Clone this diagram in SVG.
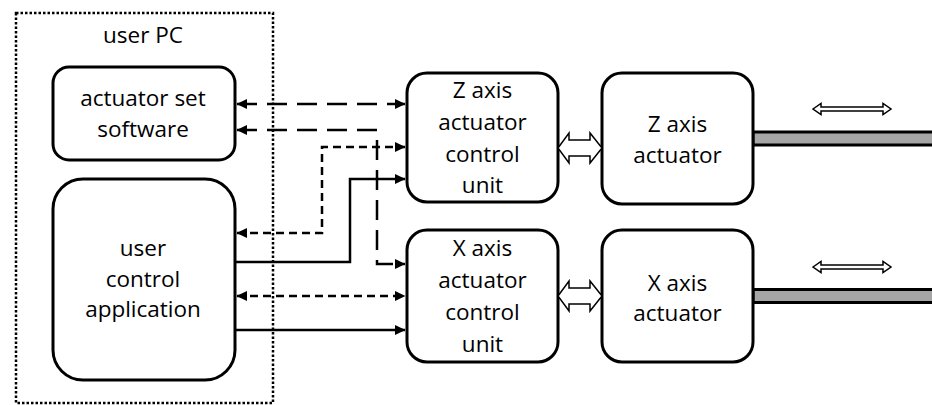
<svg xmlns="http://www.w3.org/2000/svg" width="932" height="405" viewBox="0 0 932 405">
<style>
.box{fill:#fff;stroke:#000;stroke-width:3}
.t{font-family:"Open Sans","Liberation Sans",sans-serif;font-size:22.5px;fill:#000;text-anchor:middle}
.c{fill:none;stroke:#000;stroke-width:2.5}
.ld{stroke-dasharray:20 10}
.sd{stroke-dasharray:8 5}
.hollow{fill:#fff;stroke:#000;stroke-width:1.5;stroke-linejoin:miter}
.rod{fill:#a6a6a6;stroke:#000;stroke-width:3}
</style>
<defs>
<marker id="ah" markerUnits="userSpaceOnUse" markerWidth="11" markerHeight="11" viewBox="0 0 11 11" refX="10" refY="5.5" orient="auto-start-reverse">
<path d="M0,0.5 L10.5,5.5 L0,10.5 z" fill="#000"/>
</marker>
</defs>
<rect width="932" height="405" fill="#fff"/>
<g id="userpc">
<rect x="16" y="13" width="257" height="390" fill="none" stroke="#000" stroke-width="2.5" stroke-dasharray="2.5 2"/>
<text class="t" x="143" y="43">user PC</text>
</g>
<g id="software">
<rect class="box" x="53" y="67" width="182" height="93" rx="16"/>
<text class="t" x="143" y="106">actuator set</text>
<text class="t" x="143" y="137">software</text>
</g>
<g id="app">
<rect class="box" x="53" y="179" width="182" height="201" rx="30"/>
<text class="t" x="143" y="256">user</text>
<text class="t" x="143" y="287">control</text>
<text class="t" x="143" y="317">application</text>
</g>
<g id="zcu">
<rect class="box" x="407" y="73" width="151" height="129" rx="20"/>
<text class="t" x="482.5" y="98">Z axis</text>
<text class="t" x="482.5" y="130">actuator</text>
<text class="t" x="482.5" y="162">control</text>
<text class="t" x="482.5" y="193">unit</text>
</g>
<g id="xcu">
<rect class="box" x="407" y="230" width="151" height="132" rx="20"/>
<text class="t" x="482.5" y="256">X axis</text>
<text class="t" x="482.5" y="288">actuator</text>
<text class="t" x="482.5" y="320">control</text>
<text class="t" x="482.5" y="352">unit</text>
</g>
<g id="zact">
<rect class="rod" x="753" y="132" width="190" height="13"/>
<rect class="box" x="602" y="73" width="151" height="131" rx="20"/>
<text class="t" x="677.5" y="132">Z axis</text>
<text class="t" x="677.5" y="163">actuator</text>
<path class="hollow" d="M813,109 L821,103.5 L821,107 L883,107 L883,103.5 L891,109 L883,114.5 L883,111 L821,111 L821,114.5 z"/>
</g>
<g id="xact">
<rect class="rod" x="753" y="289.5" width="190" height="13"/>
<rect class="box" x="602" y="230" width="151" height="132" rx="20"/>
<text class="t" x="677.5" y="291">X axis</text>
<text class="t" x="677.5" y="321">actuator</text>
<path class="hollow" d="M813,267 L821,261.5 L821,265 L883,265 L883,261.5 L891,267 L883,272.5 L883,269 L821,269 L821,272.5 z"/>
</g>
<g id="connectors">
<path class="hollow" d="M558,148 L569,133 L569,140 L590,140 L590,133 L602,148 L590,163 L590,156 L569,156 L569,163 z"/>
<path class="hollow" d="M558,296 L569,281 L569,288 L590,288 L590,281 L602,296 L590,311 L590,304 L569,304 L569,311 z"/>
<path class="c ld" d="M237,104 L405,104" marker-start="url(#ah)" marker-end="url(#ah)"/>
<path class="c ld" d="M237,130 L377,130 L377,264 L405,264" marker-start="url(#ah)" marker-end="url(#ah)"/>
<path class="c sd" d="M237,233 L322,233 L322,147 L405,147" marker-start="url(#ah)" marker-end="url(#ah)"/>
<path class="c" d="M235,262 L350,262 L350,179 L405,179" marker-end="url(#ah)"/>
<path class="c sd" d="M237,296 L405,296" marker-start="url(#ah)" marker-end="url(#ah)"/>
<path class="c" d="M235,330 L405,330" marker-end="url(#ah)"/>
</g>
</svg>
